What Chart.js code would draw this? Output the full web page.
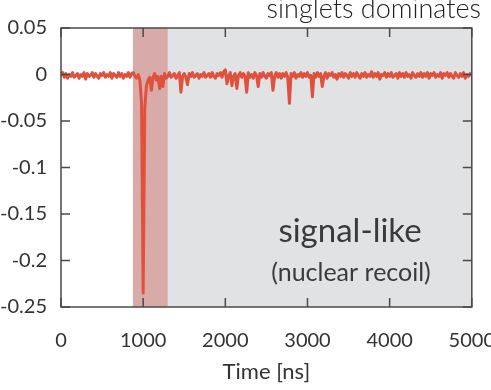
<!DOCTYPE html>
<html>
<head>
<meta charset="utf-8">
<script src="https://cdn.jsdelivr.net/npm/chart.js@4.4.1/dist/chart.umd.min.js"></script>
<style>
  html, body { margin: 0; padding: 0; background: #fff; overflow: hidden; }
  #waveform { display: block; }
</style>
</head>
<body>
<canvas id="waveform" width="517" height="390"></canvas>
<script>
// PMT waveform, one sample every 20 ns from 0 to 5000 ns
const sampleStepNs = 20;
const amplitude = [
  -0.001, 0.002, -0.003, 0.001, -0.004, 0.000, -0.002, 0.002, -0.003, -0.001,
  0.001, -0.004, 0.000, -0.002, 0.002, -0.005, 0.001, -0.002, -0.001, 0.002,
  -0.003, 0.001, -0.002, -0.004, 0.001, -0.001, 0.002, -0.003, 0.000, -0.002,
  0.002, -0.004, 0.001, -0.001, -0.003, 0.002, -0.002, 0.001, -0.004, 0.000,
  -0.002, 0.002, -0.003, 0.001, 0.002, -0.002, -0.004, 0.000, -0.006, -0.030,
  -0.235, -0.036, -0.012, -0.006, -0.003, -0.017, -0.003, 0.001, -0.006, -0.002,
  -0.015, -0.002, -0.013, 0.001, -0.004, -0.002, 0.002, -0.003, -0.001, 0.001,
  -0.004, -0.001, 0.002, -0.019, -0.002, 0.001, -0.003, -0.011, 0.001, -0.002,
  0.002, -0.003, -0.001, 0.001, -0.004, 0.000, -0.002, 0.002, -0.003, -0.001,
  0.001, -0.003, 0.002, -0.002, -0.004, 0.001, -0.001, 0.002, -0.003, 0.003,
  0.005, -0.010, -0.001, 0.002, -0.012, -0.002, 0.001, -0.015, -0.001, 0.002,
  -0.003, 0.001, -0.002, -0.019, 0.002, -0.003, 0.000, -0.004, 0.002, -0.001,
  -0.013, 0.001, -0.003, 0.002, -0.002, -0.004, 0.001, -0.001, 0.002, -0.017,
  -0.002, 0.002, -0.003, 0.001, -0.004, 0.001, -0.002, 0.002, -0.003, -0.031,
  0.001, -0.002, 0.002, -0.004, 0.000, -0.002, 0.002, -0.003, 0.001, -0.002,
  0.002, -0.003, -0.001, -0.024, 0.001, -0.003, 0.002, -0.002, 0.001, -0.013,
  -0.002, 0.002, -0.004, 0.001, -0.001, 0.002, -0.003, 0.000, -0.005, 0.001,
  -0.002, 0.002, -0.003, 0.001, -0.001, -0.004, 0.002, -0.002, 0.001, -0.003,
  0.002, -0.001, -0.004, 0.001, -0.002, 0.002, -0.003, 0.000, -0.002, 0.003,
  -0.003, 0.001, -0.002, 0.002, -0.005, 0.000, -0.001, 0.002, -0.003, 0.001,
  -0.002, 0.002, -0.003, -0.001, 0.001, -0.004, 0.002, -0.002, 0.001, -0.003,
  0.002, -0.002, 0.000, -0.004, 0.002, -0.001, -0.003, 0.001, -0.002, 0.002,
  -0.003, 0.001, -0.002, 0.002, -0.004, 0.001, -0.001, 0.002, -0.003, 0.000,
  -0.002, 0.002, -0.004, 0.001, -0.001, 0.002, -0.003, 0.001, -0.002, -0.004,
  0.002, -0.001, -0.003, 0.001, -0.002, 0.002, -0.004, 0.000, -0.002, 0.001,
  -0.001
];

const xTicks = [0, 1000, 2000, 3000, 4000, 5000];
const yTicks = [0.05, 0, -0.05, -0.1, -0.15, -0.2, -0.25];

// shaded time windows [start, end] in ns
const promptWindow = [875, 1300];
const lateWindow = [1300, 5000];

const topNote = 'singlets dominates';
const labelMain = 'signal-like';
const labelSub = '(nuclear recoil)';

const traceColor = 'rgb(224, 80, 60)';
const frameColor = '#4a4a4a';
const textColor = '#333';

const shading = {
    id: 'shading',
    beforeDatasetsDraw(chart) {
        const { ctx, chartArea: a, scales: { x } } = chart;
        ctx.save();
        ctx.fillStyle = '#e1e2e4';
        ctx.fillRect(x.getPixelForValue(lateWindow[0]), a.top,
            x.getPixelForValue(lateWindow[1]) - x.getPixelForValue(lateWindow[0]), a.bottom - a.top);
        ctx.fillStyle = 'rgb(216, 170, 168)';
        ctx.fillRect(x.getPixelForValue(promptWindow[0]), a.top,
            x.getPixelForValue(promptWindow[1]) - x.getPixelForValue(promptWindow[0]), a.bottom - a.top);
        ctx.restore();
    }
};

// box around the plot with ticks pointing inwards on all four sides
const frame = {
    id: 'frame',
    afterDatasetsDraw(chart) {
        const { ctx, chartArea: a, scales: { x, y } } = chart;
        const len = 9;
        ctx.save();
        ctx.strokeStyle = frameColor;
        ctx.lineWidth = 1.5;
        ctx.strokeRect(a.left, a.top, a.right - a.left, a.bottom - a.top);
        ctx.beginPath();
        xTicks.forEach(v => {
            const px = x.getPixelForValue(v);
            ctx.moveTo(px, a.bottom); ctx.lineTo(px, a.bottom - len);
            ctx.moveTo(px, a.top); ctx.lineTo(px, a.top + len);
        });
        yTicks.forEach(v => {
            const py = y.getPixelForValue(v);
            ctx.moveTo(a.left, py); ctx.lineTo(a.left + len, py);
            ctx.moveTo(a.right, py); ctx.lineTo(a.right - len, py);
        });
        ctx.stroke();
        ctx.restore();
    },
    afterDraw(chart) {
        const ctx = chart.ctx;
        ctx.save();
        ctx.textAlign = 'right';
        ctx.textBaseline = 'alphabetic';
        ctx.fillStyle = '#222';
        ctx.font = '300 27px Lato, sans-serif';
        ctx.fillText(topNote, 481, 18);
        ctx.textAlign = 'center';
        ctx.fillStyle = '#3a3a3a';
        ctx.font = '33px Lato, sans-serif';
        ctx.fillText(labelMain, 350, 242);
        ctx.font = '25px Lato, sans-serif';
        ctx.fillText(labelSub, 351, 281);
        ctx.restore();
    }
};

document.addEventListener("DOMContentLoaded", function() {
    const ctx = document.getElementById('waveform').getContext('2d');
    const points = amplitude.map((v, i) => ({ x: i * sampleStepNs, y: v }));
    new Chart(ctx, {
        type: 'line',
        data: {
            datasets: [{
                data: points,
                borderColor: traceColor,
                borderWidth: 3,
                borderJoinStyle: 'round',
                pointRadius: 0,
                tension: 0,
                fill: false
            }]
        },
        options: {
            responsive: false,
            animation: false,
            layout: { padding: { top: 28, right: 31, left: 0, bottom: 0 } },
            plugins: {
                legend: { display: false },
                tooltip: { enabled: false }
            },
            scales: {
                x: {
                    type: 'linear',
                    min: 0,
                    max: 5000,
                    grid: { display: false, drawTicks: false },
                    border: { display: false },
                    afterFit: s => { s.height = 83; },
                    afterBuildTicks: s => { s.ticks = xTicks.map(v => ({ value: v })); },
                    ticks: {
                        padding: 22,
                        color: textColor,
                        font: { family: 'Lato', size: 20 },
                        maxRotation: 0,
                        callback: v => String(v)
                    },
                    title: {
                        display: true,
                        text: 'Time [ns]',
                        color: textColor,
                        font: { family: 'Lato', size: 22 },
                        padding: { top: 4, bottom: 5 }
                    }
                },
                y: {
                    min: -0.25,
                    max: 0.05,
                    grid: { display: false, drawTicks: false },
                    border: { display: false },
                    afterFit: s => { s.width = 61; },
                    afterBuildTicks: s => { s.ticks = yTicks.map(v => ({ value: v })); },
                    ticks: {
                        padding: 14,
                        color: textColor,
                        font: { family: 'Lato', size: 20 },
                        callback: v => String(v)
                    }
                }
            }
        },
        plugins: [shading, frame]
    });
});
</script>
</body>
</html>
